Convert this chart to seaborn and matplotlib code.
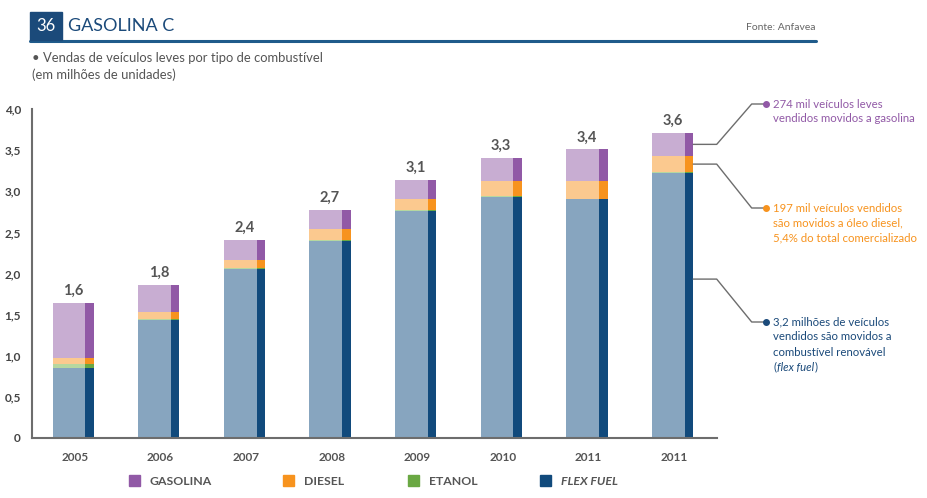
import numpy as np
import pandas as pd
import matplotlib
matplotlib.use("Agg")
import matplotlib.pyplot as plt
import seaborn as sns
from matplotlib.patches import Patch, Rectangle
from matplotlib.lines import Line2D

# values (millions of units)
years = ["2005", "2006", "2007", "2008", "2009", "2010", "2011", "2011"]
flex = [0.85, 1.43, 2.06, 2.40, 2.76, 2.93, 2.90, 3.22]
etanol = [0.05, 0.02, 0.01, 0.01, 0.01, 0.01, 0.01, 0.01]
diesel = [0.07, 0.08, 0.10, 0.13, 0.14, 0.19, 0.22, 0.20]
gasolina = [0.67, 0.33, 0.24, 0.23, 0.23, 0.28, 0.38, 0.28]
total_labels = ["1,6", "1,8", "2,4", "2,7", "3,1", "3,3", "3,4", "3,6"]

fuels = ["flex", "etanol", "diesel", "gasolina"]
legend_keys = ["gasolina", "diesel", "etanol", "flex"]
legend_labels = ["GASOLINA", "DIESEL", "ETANOL", "FLEX FUEL"]
light = {"flex": "#87a5bf", "etanol": "#b6d7a0", "diesel": "#fbc98f", "gasolina": "#c8add2"}
dark = {"flex": "#114a7c", "etanol": "#6aa843", "diesel": "#f7931e", "gasolina": "#9159a6"}

df = pd.DataFrame({"pos": np.arange(len(years)), "flex": flex, "etanol": etanol,
                   "diesel": diesel, "gasolina": gasolina})

sns.set_style("white")
plt.rcParams["font.family"] = ["Lato", "DejaVu Sans"]

W, H = 927, 498
fig = plt.figure(figsize=(W / 100, H / 100), dpi=100)
ax = fig.add_axes([32 / W, 1 - 438 / H, (717 - 32) / W, (438 - 109) / H])

# stacked bars: front face + darker side strip, drawn top layer first
tops = df[fuels].cumsum(axis=1)
face_off, face_w = -0.069, 0.382
side_off, side_w = 0.172, 0.100
for f in reversed(fuels):
    sns.barplot(x=df["pos"] + face_off, y=tops[f], native_scale=True, orient="x",
                width=face_w, color=light[f], saturation=1, linewidth=0,
                errorbar=None, ax=ax)
    sns.barplot(x=df["pos"] + side_off, y=tops[f], native_scale=True, orient="x",
                width=side_w, color=dark[f], saturation=1, linewidth=0,
                errorbar=None, ax=ax)

for p, t, lab in zip(df["pos"], tops["gasolina"], total_labels):
    ax.text(p - 0.02, t + 0.06, lab, ha="center", va="bottom", fontsize=10.5,
            fontweight="bold", color="#555555")

ax.set_xlim(-0.5, 7.5)
ax.set_ylim(0, 4)
sns.despine(ax=ax)
for s in ["left", "bottom"]:
    ax.spines[s].set_color("#6d6d6d")
    ax.spines[s].set_linewidth(1.5)

ax.set_xticks(df["pos"])
ax.set_xticklabels(years, fontsize=8.5, fontweight="bold", color="#555555")
ax.set_xticks(np.arange(0.5, 8, 1), minor=True)
ax.tick_params(axis="x", which="major", length=0, pad=10)
ax.tick_params(axis="x", which="minor", direction="in", length=5, width=1.3, color="#6d6d6d")

yt = np.arange(0, 4.01, 0.5)
ax.set_yticks(yt)
ax.set_yticklabels(["0"] + [f"{v:.1f}".replace(".", ",") for v in yt[1:]],
                   fontsize=8.5, fontweight="bold", color="#444444")
ax.set_yticks([4.0], minor=True)
ax.tick_params(axis="y", which="major", length=0, pad=8)
ax.tick_params(axis="y", which="minor", direction="in", length=5, width=1.3, color="#6d6d6d")
ax.set_xlabel("")
ax.set_ylabel("")


def fx(x):
    return x / W


def fy(y):
    return 1 - y / H


# header
fig.patches.append(Rectangle((fx(30), fy(40)), 32 / W, 28 / H, transform=fig.transFigure,
                             color="#1b4a7a", zorder=2))
fig.text(fx(46), fy(26), "36", color="white", ha="center", va="center", fontsize=12)
fig.text(fx(68), fy(26), "GASOLINA C", color="#1b4a7a", ha="left", va="center",
         fontsize=13)
fig.add_artist(Line2D([fx(30), fx(816)], [fy(41.5), fy(41.5)], lw=2.2, color="#1f5b8b"))
fig.text(fx(816), fy(28), "Fonte: Anfavea", ha="right", va="center", fontsize=7.5,
         color="#666666")
fig.text(fx(32), fy(58), "• Vendas de veículos leves por tipo de combustível",
         ha="left", va="center", fontsize=9.4, color="#555555")
fig.text(fx(32), fy(75), "(em milhões de unidades)", ha="left", va="center",
         fontsize=9.4, color="#555555")

# callouts on the last bar
last = len(years) - 1
callouts = [
    (tops["diesel"][last] + gasolina[last] / 2, 104, dark["gasolina"],
     ["274 mil veículos leves", "vendidos movidos a gasolina"]),
    (tops["etanol"][last] + diesel[last] / 2, 208, dark["diesel"],
     ["197 mil veículos vendidos", "são movidos a óleo diesel,", "5,4% do total comercializado"]),
    (flex[last] * 0.6, 322, "#1b4a7a",
     ["3,2 milhões de veículos", "vendidos são movidos a", "combustível renovável"]),
]
cfs = 8.2
for yv, ty, col, lines in callouts:
    sx, sy = ax.transData.transform((last + side_off + side_w / 2, yv))
    sy = H - sy
    xs = [sx, 716.7, 751.7, 765.7]
    ys = [sy, sy, ty, ty]
    fig.add_artist(Line2D([fx(v) for v in xs], [fy(v) for v in ys], lw=1, color="#6d6d6d"))
    fig.add_artist(Line2D([fx(765.7)], [fy(ty)], marker="o", ms=4, color=col, lw=0))
    for k, line in enumerate(lines):
        fig.text(fx(773), fy(ty + 15 * k), line, ha="left", va="center", fontsize=cfs,
                 color=col)

# "(flex fuel)" with italic words
renderer = fig.canvas.get_renderer()
yl = fy(322 + 45)
x0 = fx(773)
for piece, style in [("(", "normal"), ("flex fuel", "italic"), (")", "normal")]:
    t = fig.text(x0, yl, piece, ha="left", va="center", fontsize=cfs, color="#1b4a7a",
                 style=style)
    x0 = t.get_window_extent(renderer).x1 / W + 0.001

# legend, one entry per position
legend_x = [129, 283, 408, 540]
for key, lab, lx in zip(legend_keys, legend_labels, legend_x):
    leg = fig.legend([Patch(color=dark[key])], [lab], loc="center left",
                     bbox_to_anchor=(fx(lx), fy(481)), frameon=False,
                     handlelength=0.9, handleheight=0.9, handletextpad=0.8,
                     borderpad=0, borderaxespad=0,
                     prop={"weight": "bold", "size": 8.8})
    txt = leg.get_texts()[0]
    txt.set_color("#555555")
    if key == "flex":
        txt.set_style("italic")

fig.savefig("out.png", dpi=100)
